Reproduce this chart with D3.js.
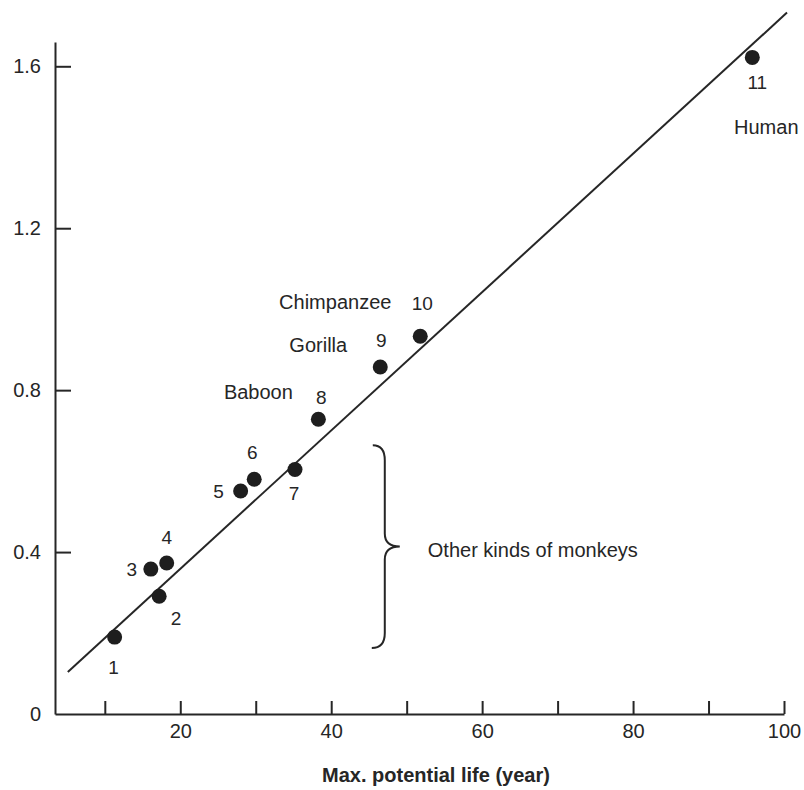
<!DOCTYPE html>
<html>
<head>
<meta charset="utf-8">
<script src="https://cdn.jsdelivr.net/npm/d3@7"></script>
<style>
  html, body { margin: 0; padding: 0; background: #fff; }
  svg { display: block; font-family: "Liberation Sans", Arial, sans-serif; }
</style>
</head>
<body>
<svg id="chart" width="804" height="790"></svg>
<script>
// ---- data ----
const ids = ["1","2","3","4","5","6","7","8","9","10","11"];
const maxLife = [11.3, 17.2, 16.1, 18.2, 28.0, 29.8, 35.2, 38.3, 46.5, 51.8, 95.8];
const yValue = [0.190, 0.291, 0.358, 0.373, 0.551, 0.580, 0.604, 0.728, 0.857, 0.933, 1.622];
const speciesNames = ["Baboon", "Gorilla", "Chimpanzee", "Human"];
const speciesPointIds = ["8", "9", "10", "11"];
const xTickValues = [10, 20, 30, 40, 50, 60, 70, 80, 90, 100];
const xTickLabels = [20, 40, 60, 80, 100];
const yTickValues = [0, 0.4, 0.8, 1.2, 1.6];
const fitSlope = 0.01709;
const fitIntercept = 0.0168;
const fitRange = [5.1, 100.4];
const bracketRange = [0.163, 0.664];   // y-extent of the "other monkeys" brace
const bracketX = 47.1;
const xTitle = "Max. potential life (year)";
const bracketText = "Other kinds of monkeys";

// ---- layout (label offsets in px) ----
const idOffsets = [[-1,30],[17,22],[-19,0],[0,-26],[-22,0],[-2,-27],[-1,24],[3,-22],[1,-27],[2,-33],[5,25]];
const nameOffsets = [[-60,-27],[-62,-22],[-85,-34],[14,70]];

const ink = "#262626";
const svg = d3.select("#chart");

const x = d3.scaleLinear().domain([3.4, 100]).range([55, 784]);
const y = d3.scaleLinear().domain([0, 1.66]).range([714, 42]);

// x axis
const xAxis = svg.append("g")
  .attr("transform", `translate(0,${y(0)})`)
  .call(d3.axisBottom(x)
    .tickValues(xTickValues)
    .tickSize(-13)
    .tickSizeOuter(0)
    .tickPadding(10)
    .tickFormat(d => xTickLabels.includes(d) ? d : ""));
xAxis.selectAll("text").attr("dy", "0.71em");

// y axis
const yAxis = svg.append("g")
  .attr("transform", `translate(${x(3.4)},0)`)
  .call(d3.axisLeft(y)
    .tickValues(yTickValues)
    .tickSize(-16)
    .tickSizeOuter(0)
    .tickPadding(14)
    .tickFormat(d => d === 0 ? "0" : d.toFixed(1)));

svg.selectAll(".domain").attr("stroke", ink).attr("stroke-width", 2);
svg.selectAll(".tick line").attr("stroke", ink).attr("stroke-width", 2);
svg.selectAll(".tick text").attr("fill", ink).attr("font-size", 20)
  .attr("font-family", "'Liberation Sans', Arial, sans-serif");
yAxis.selectAll(".tick").filter(d => d === 0).select("line").remove();

// fit line
svg.append("line")
  .attr("x1", x(fitRange[0])).attr("y1", y(fitIntercept + fitSlope * fitRange[0]))
  .attr("x2", x(fitRange[1])).attr("y2", y(fitIntercept + fitSlope * fitRange[1]))
  .attr("stroke", ink).attr("stroke-width", 2);

// points
const pts = ids.map((id, i) => ({id, x: maxLife[i], y: yValue[i], off: idOffsets[i]}));
svg.append("g").selectAll("circle").data(pts).join("circle")
  .attr("cx", d => x(d.x)).attr("cy", d => y(d.y)).attr("r", 7.5)
  .attr("fill", "#1e1e1e");

svg.append("g").selectAll("text").data(pts).join("text")
  .attr("x", d => x(d.x) + d.off[0])
  .attr("y", d => y(d.y) + d.off[1])
  .attr("dy", "0.35em")
  .attr("text-anchor", "middle")
  .attr("font-size", 19)
  .attr("fill", ink)
  .text(d => d.id);

// species names
svg.append("g").selectAll("text").data(speciesNames).join("text")
  .attr("x", (d, i) => { const p = pts.find(q => q.id === speciesPointIds[i]); return x(p.x) + nameOffsets[i][0]; })
  .attr("y", (d, i) => { const p = pts.find(q => q.id === speciesPointIds[i]); return y(p.y) + nameOffsets[i][1]; })
  .attr("dy", "0.35em")
  .attr("text-anchor", "middle")
  .attr("font-size", 20)
  .attr("fill", ink)
  .text(d => d);

// brace
const bx = x(bracketX), yt = y(bracketRange[1]), yb = y(bracketRange[0]);
const ym = (yt + yb) / 2;
const bracePath = `M${bx - 12},${yt} Q${bx},${yt} ${bx},${yt + 15}
  L${bx},${ym - 13} Q${bx},${ym} ${bx + 15},${ym}
  Q${bx},${ym} ${bx},${ym + 13} L${bx},${yb - 15} Q${bx},${yb} ${bx - 13},${yb}`;
svg.append("path").attr("d", bracePath)
  .attr("fill", "none").attr("stroke", ink).attr("stroke-width", 2);
svg.append("text")
  .attr("x", bx + 43).attr("y", ym + 3).attr("dy", "0.35em")
  .attr("font-size", 20)
  .attr("fill", ink)
  .text(bracketText);

// x title
svg.append("text")
  .attr("x", 436).attr("y", 775).attr("dy", "0.35em")
  .attr("text-anchor", "middle")
  .attr("font-size", 20).attr("font-weight", "bold")
  .attr("fill", ink)
  .text(xTitle);
</script>
</body>
</html>
